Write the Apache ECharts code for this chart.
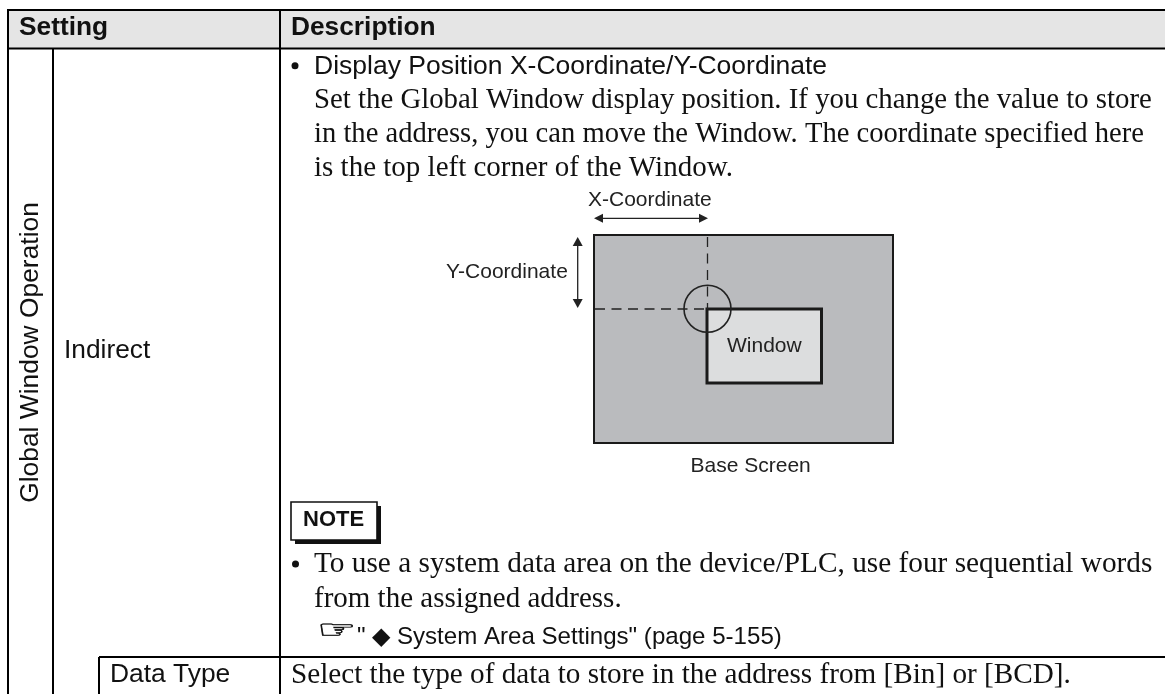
<!DOCTYPE html>
<html><head><meta charset="utf-8">
<style>html,body{margin:0;padding:0;background:#fff}#c{width:1165px;height:694px}</style>
<script src="https://cdn.jsdelivr.net/npm/echarts@6/dist/echarts.min.js"></script>
</head><body><div id="c"></div>
<script>
const SANS = '"Liberation Sans", Arial, sans-serif';
const SERIF = '"Liberation Serif", "Times New Roman", serif';
const headerLabels = ['Setting', 'Description'];
const sideLabel = 'Global Window Operation';
const rowLabels = ['Indirect', 'Data Type'];
const bulletHeading = 'Display Position X-Coordinate/Y-Coordinate';
const paragraphLines = [
  'Set the Global Window display position. If you change the value to store',
  'in the address, you can move the Window. The coordinate specified here',
  'is the top left corner of the Window.'
];
const diagramLabels = ['X-Coordinate', 'Y-Coordinate', 'Window', 'Base Screen'];
const noteLabel = 'NOTE';
const noteLines = [
  'To use a system data area on the device/PLC, use four sequential words',
  'from the assigned address.'
];
const refLine = '" \u25C6 System Area Settings" (page 5-155)';
const dataTypeText = 'Select the type of data to store in the address from [Bin] or [BCD].';

const K = '#000';
function L(x1,y1,x2,y2,w,extra){return {type:'line',shape:{x1,y1,x2,y2},style:Object.assign({stroke:K,lineWidth:w||2},extra||{})};}
function T(x,y,text,size,font,extra){return {type:'text',x,y,style:Object.assign({text,fontSize:size,fontFamily:font||SANS,fill:'#111',verticalAlign:'middle'},extra||{})};}
function R(x,y,w,h,fill,stroke,lw){return {type:'rect',shape:{x,y,width:w,height:h},style:{fill:fill,stroke:stroke||null,lineWidth:lw||0}};}
function Tri(pts){return {type:'polygon',shape:{points:pts},style:{fill:'#222'}};}

const els = [];
// header band and table rules (the right side of the table is open)
els.push(R(8,10,1157,38.5,'#e5e5e5'));
els.push(L(7,10,1165,10,2));
els.push(L(7,48.5,1165,48.5,2));
els.push(L(8,10,8,694,2));
els.push(L(53,49,53,694,2));
els.push(L(280,10,280,694,2));
els.push(L(99,657,1165,657,2));
els.push(L(99,657,99,694,2));
// header text
els.push(T(19,28,headerLabels[0],26.3,SANS,{fontWeight:'bold'}));
els.push(T(291,28,headerLabels[1],26.3,SANS,{fontWeight:'bold'}));
// left column
els.push({type:'text',x:31,y:352.5,rotation:Math.PI/2,style:{text:sideLabel,fontSize:26.4,fontFamily:SANS,fill:'#111',align:'center',verticalAlign:'middle'}});
els.push(T(64,351,rowLabels[0],26.3));
els.push(T(110,675,rowLabels[1],26.4));
// description
els.push({type:'circle',shape:{cx:295,cy:65.7,r:3.5},style:{fill:'#111'}});
els.push(T(314,67,bulletHeading,26.5));
const paraSizes = [28.8,28.6,29];
paragraphLines.forEach((s,i)=>els.push(T(314,100+i*34,s,paraSizes[i],SERIF)));
// diagram
els.push(R(594,235,299,208,'#babbbe','#1a1a1a',2));
els.push(R(707,309,114.5,74,'#dcddde','#1a1a1a',3));
els.push(L(707.5,237,707.5,309,1.3,{lineDash:[10,6.5],stroke:'#222'}));
els.push(L(595,309,707,309,1.3,{lineDash:[10,6.5],stroke:'#222'}));
els.push({type:'circle',shape:{cx:707.5,cy:308.7,r:23.5},style:{fill:null,stroke:'#222',lineWidth:1.6}});
els.push(L(600,218.3,702,218.3,1.3,{stroke:'#222'}));
els.push(Tri([[594,218.3],[603,213.8],[603,222.8]]));
els.push(Tri([[708,218.3],[699,213.8],[699,222.8]]));
els.push(L(577.7,243,577.7,302,1.3,{stroke:'#222'}));
els.push(Tri([[577.7,237],[572.7,246],[582.7,246]]));
els.push(Tri([[577.7,308],[572.7,299],[582.7,299]]));
els.push(T(588,200,diagramLabels[0],21,SANS,{fill:'#222'}));
els.push(T(446,272,diagramLabels[1],21,SANS,{fill:'#222'}));
els.push(T(727,346.5,diagramLabels[2],21,SANS,{fill:'#222'}));
els.push(T(690.5,466,diagramLabels[3],21,SANS,{fill:'#222'}));
// note
els.push(R(295,506,86,38,'#111'));
els.push(R(291,502,86,38,'#fff','#111',1.6));
els.push(T(303,520,noteLabel,22,SANS,{fontWeight:'bold'}));
els.push({type:'circle',shape:{cx:295.5,cy:564,r:3.5},style:{fill:'#111'}});
const noteSizes = [29.3,29];
noteLines.forEach((s,i)=>els.push(T(314,564+i*35,s,noteSizes[i],SERIF)));
els.push(Object.assign(T(0,0,'\u261E',38,'"DejaVu Sans"',{stroke:'#111',lineWidth:0.7}),{x:317,y:631,scaleX:1.15,scaleY:0.66}));
els.push(T(357,637,refLine,24.1));
els.push(T(291,675,dataTypeText,29.2,SERIF));

const chart = echarts.init(document.getElementById('c'),null,{renderer:'canvas'});
chart.setOption({animation:false,backgroundColor:'#fff',graphic:{elements:els}});
</script></body></html>
